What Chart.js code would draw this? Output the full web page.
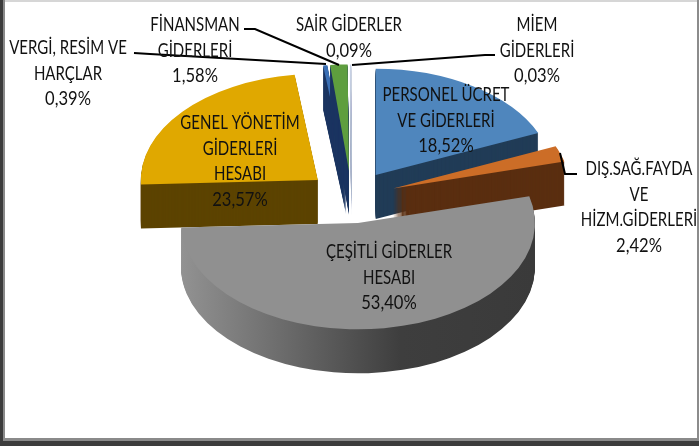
<!DOCTYPE html>
<html>
<head>
<meta charset="utf-8">
<script src="https://cdn.jsdelivr.net/npm/chart.js@4"></script>
<style>
  html, body { margin: 0; padding: 0; background: #fff; overflow: hidden; }
  #wrap { position: relative; width: 699px; height: 446px; }
  #chart { display: block; filter: blur(0.45px); }
  #frame {
    position: absolute; left: 0; top: 0; width: 699px; height: 446px; pointer-events: none;
    box-shadow: inset 3px -5px 0 #3c3c3c, inset 5px -8px 0 #8a8a8a, inset -2px 0 0 #8c8c8c, inset 0 2px 0 #d6d6d6;
  }
</style>
</head>
<body>
<div id="wrap">
  <canvas id="chart" width="699" height="446"></canvas>
  <div id="frame"></div>
</div>
<script>
const categories = [
  "PERSONEL ÜCRET VE GİDERLERİ",
  "DIŞ.SAĞ.FAYDA VE HİZM.GİDERLERİ",
  "ÇEŞİTLİ GİDERLER HESABI",
  "GENEL YÖNETİM GİDERLERİ HESABI",
  "VERGİ, RESİM VE HARÇLAR",
  "FİNANSMAN GİDERLERİ",
  "SAİR GİDERLER",
  "MİEM GİDERLERİ"
];
const values = [18.52, 2.42, 53.40, 23.57, 0.39, 1.58, 0.09, 0.03];
const nameLines = [
  ["PERSONEL ÜCRET", "VE GİDERLERİ"],
  ["DIŞ.SAĞ.FAYDA", "VE", "HİZM.GİDERLERİ"],
  ["ÇEŞİTLİ GİDERLER", "HESABI"],
  ["GENEL YÖNETİM", "GİDERLERİ", "HESABI"],
  ["VERGİ, RESİM VE", "HARÇLAR"],
  ["FİNANSMAN", "GİDERLERİ"],
  ["SAİR GİDERLER"],
  ["MİEM", "GİDERLERİ"]
];

const topColors = ["#4f86bd", "#cc6d27", "#909090", "#e0a800", "#3a6fb5", "#5e9e3e", "#c9d3e6", "#dde3ef"];
const wallColors = ["#213c57", "#5a2e10", null, "#5c4300", "#1c3560", "#1c3560", "#aab4c8", "#c2c9d8"];

// label centres (x, y of first line), leader lines
const labelSpots = [[446, 95], [639, 169], [389, 252], [240, 123], [68, 48], [195, 25], [349, 25], [537, 25]];
const leaders = [
  [[244, 29], [255, 29], [339, 65]],
  [[134, 53], [150, 54], [326, 64]],
  [[495, 55], [485, 55], [352, 65]],
  [[577, 174], [565, 174], [560, 153]]
];

const TILT = 0.6;
const DEPTH = 44;
const EXPLODE = 44;
const LINE_GAP = 25.5;
const drawOrder = [7, 6, 4, 5, 3, 0, 1, 2];

// pie with a tilted top, a side wall and pulled out slices
class Pie3D extends Chart.DoughnutController {
  draw() {
    const ctx = this.chart.ctx;
    const arcs = this._cachedMeta.data;

    drawOrder.forEach(i => {
      const arc = arcs[i];
      const mid = (arc.startAngle + arc.endAngle) / 2;
      const r = arc.outerRadius;

      ctx.save();
      ctx.translate(arc.x + Math.cos(mid) * EXPLODE, arc.y + Math.sin(mid) * EXPLODE * TILT);

      if (wallColors[i]) {
        ctx.fillStyle = wallColors[i];
      } else {
        const g = ctx.createLinearGradient(-r, 0, r, 0);
        g.addColorStop(0, "#929292");
        g.addColorStop(0.24, "#727272");
        g.addColorStop(0.62, "#3e3e3e");
        g.addColorStop(1, "#3a3a3a");
        ctx.fillStyle = g;
      }
      for (let dz = DEPTH; dz > 0; dz--) {
        ctx.save();
        ctx.translate(0, dz);
        ctx.scale(1, TILT);
        ctx.beginPath();
        ctx.moveTo(0, 0);
        ctx.arc(0, 0, r, arc.startAngle, arc.endAngle);
        ctx.closePath();
        ctx.fill();
        ctx.restore();
      }

      ctx.scale(1, TILT);
      ctx.translate(-arc.x, -arc.y);
      arc.draw(ctx);
      ctx.restore();
    });
  }
}
Pie3D.id = "pie3d";
Pie3D.defaults = {};
Chart.register(Pie3D);

const sliceLabels = {
  id: "sliceLabels",
  afterDatasetsDraw(chart) {
    const ctx = chart.ctx;
    ctx.save();

    ctx.strokeStyle = "#000";
    ctx.lineWidth = 2;
    leaders.forEach(points => {
      ctx.beginPath();
      points.forEach((p, k) => k ? ctx.lineTo(p[0], p[1]) : ctx.moveTo(p[0], p[1]));
      ctx.stroke();
    });

    ctx.fillStyle = "#111";
    ctx.font = "19.5px Lato";
    ctx.textAlign = "center";
    ctx.textBaseline = "middle";
    values.forEach((v, i) => {
      const lines = nameLines[i].concat(v.toFixed(2).replace(".", ",") + "%");
      lines.forEach((text, k) => {
        ctx.save();
        ctx.translate(labelSpots[i][0], labelSpots[i][1] + k * LINE_GAP);
        ctx.scale(k === lines.length - 1 ? 0.85 : 0.77, 1);
        ctx.fillText(text, 0, 0);
        ctx.restore();
      });
    });
    ctx.restore();
  }
};

new Chart(document.getElementById("chart"), {
  type: "pie3d",
  data: {
    labels: categories,
    datasets: [{
      data: values,
      backgroundColor: topColors,
      borderWidth: 0
    }]
  },
  options: {
    responsive: false,
    animation: false,
    cutout: 0,
    radius: 177,
    layout: { padding: { left: 4, bottom: 52 } },
    plugins: {
      legend: { display: false },
      tooltip: { enabled: false }
    }
  },
  plugins: [sliceLabels]
});
</script>
</body>
</html>
